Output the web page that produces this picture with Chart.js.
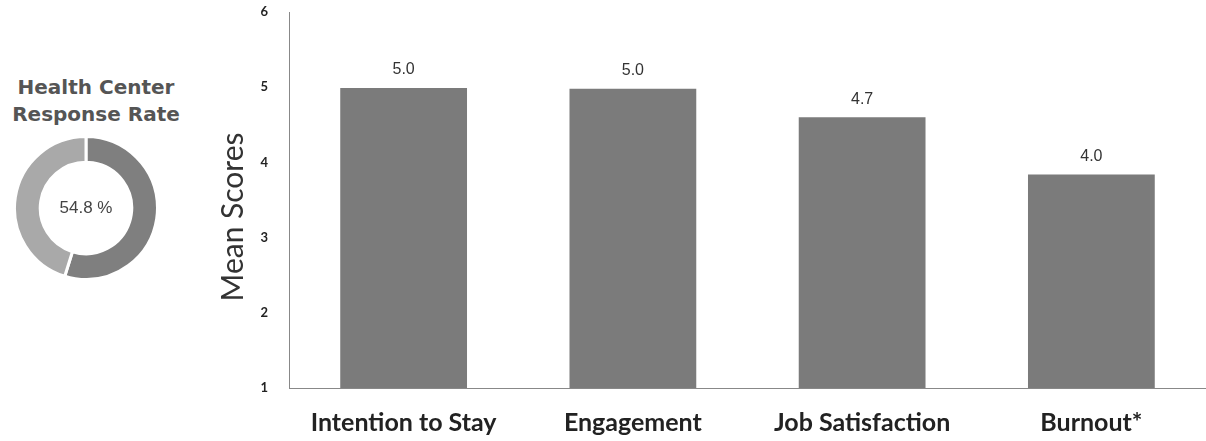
<!DOCTYPE html>
<html>
<head>
<meta charset="utf-8">
<script src="https://cdn.jsdelivr.net/npm/chart.js@4.4.1/dist/chart.umd.min.js"></script>
<style>
  body { margin: 0; background: #fff; width: 1206px; height: 441px; overflow: hidden; position: relative; }
  #donutTitle { position: absolute; left: 0; top: 74px; width: 192px; text-align: center;
    font: bold 20px/27px "DejaVu Sans", Verdana, sans-serif; color: #555; }
  #donutBox { position: absolute; left: 13px; top: 135px; width: 146px; height: 146px; }
  #barBox { position: absolute; left: 200px; top: 0; width: 1006px; height: 441px; }
</style>
</head>
<body>
<div id="donutTitle">Health Center<br>Response Rate</div>
<div id="donutBox"><canvas id="donutChart"></canvas></div>
<div id="barBox"><canvas id="barChart"></canvas></div>
<script>
const categories = ['Intention to Stay', 'Engagement', 'Job Satisfaction', 'Burnout*'];
const meanScores = [4.99, 4.98, 4.6, 3.84];
const scoreLabels = ['5.0', '5.0', '4.7', '4.0'];
const yTicks = [1, 2, 3, 4, 5, 6];
const yTitle = 'Mean Scores';

const responseRate = 54.8;
const responseParts = [54.8, 45.2];

// text above each bar
const barLabels = {
  id: 'barLabels',
  afterDatasetsDraw(chart) {
    const ctx = chart.ctx;
    const meta = chart.getDatasetMeta(0);
    ctx.save();
    ctx.font = '16px "Liberation Sans", Arial, sans-serif';
    ctx.fillStyle = '#333';
    ctx.textAlign = 'center';
    ctx.textBaseline = 'middle';
    meta.data.forEach((bar, i) => {
      ctx.fillText(scoreLabels[i], bar.x, bar.y - 18);
    });
    ctx.restore();
  }
};

// y axis title, sits a bit below the middle like the original
const sideTitle = {
  id: 'sideTitle',
  afterDraw(chart) {
    const ctx = chart.ctx;
    ctx.save();
    ctx.translate(33, 217);
    ctx.rotate(-Math.PI / 2);
    ctx.font = '30px Lato, "Open Sans", sans-serif';
    ctx.fillStyle = '#333';
    ctx.textAlign = 'center';
    ctx.textBaseline = 'middle';
    ctx.fillText(yTitle, 0, 0);
    ctx.restore();
  }
};

// percentage in the middle of the ring
const centerText = {
  id: 'centerText',
  afterDraw(chart) {
    const arc = chart.getDatasetMeta(0).data[0];
    if (!arc) return;
    const ctx = chart.ctx;
    ctx.save();
    ctx.font = '17px "Liberation Sans", Arial, sans-serif';
    ctx.fillStyle = '#444';
    ctx.textAlign = 'center';
    ctx.textBaseline = 'middle';
    ctx.fillText(responseRate.toFixed(1) + ' %', arc.x, arc.y);
    ctx.restore();
  }
};

new Chart(document.getElementById('donutChart'), {
  type: 'doughnut',
  data: {
    labels: ['Responded', 'Not responded'],
    datasets: [{
      data: responseParts,
      backgroundColor: ['#7f7f7f', '#a9a9a9'],
      borderColor: '#fff',
      borderWidth: 3
    }]
  },
  options: {
    responsive: true,
    maintainAspectRatio: false,
    animation: false,
    cutout: '64%',
    layout: { padding: 0 },
    plugins: {
      legend: { display: false },
      tooltip: { enabled: false }
    }
  },
  plugins: [centerText]
});

new Chart(document.getElementById('barChart'), {
  type: 'bar',
  data: {
    labels: categories,
    datasets: [{
      label: 'Mean Scores',
      data: meanScores,
      backgroundColor: '#7b7b7b',
      barPercentage: 0.553,
      categoryPercentage: 1.0
    }]
  },
  options: {
    responsive: true,
    maintainAspectRatio: false,
    animation: false,
    layout: { padding: { top: 12, right: 0, left: 0, bottom: 0 } },
    plugins: {
      legend: { display: false },
      tooltip: { enabled: false }
    },
    scales: {
      x: {
        grid: { display: false },
        border: { display: true, color: '#888', width: 1 },
        ticks: {
          color: '#222',
          padding: 12,
          font: { family: 'Lato, "Open Sans", sans-serif', size: 25, weight: 'bold' }
        },
        afterFit(scale) { scale.height = 53; scale.paddingTop = 0; }
      },
      y: {
        min: 1,
        max: 6,
        afterBuildTicks(scale) { scale.ticks = yTicks.map(v => ({ value: v })); },
        grid: { display: false },
        border: { display: true, color: '#888', width: 1 },
        ticks: {
          color: '#222',
          padding: 13,
          font: { family: 'Lato, sans-serif', size: 13, weight: 'bold' }
        },
        // fixed axis width and no label overhang so the plot spans 12..388
        afterFit(scale) { scale.width = 89; scale.paddingTop = 0; scale.paddingBottom = 0; }
      }
    }
  },
  plugins: [barLabels, sideTitle]
});
</script>
</body>
</html>
